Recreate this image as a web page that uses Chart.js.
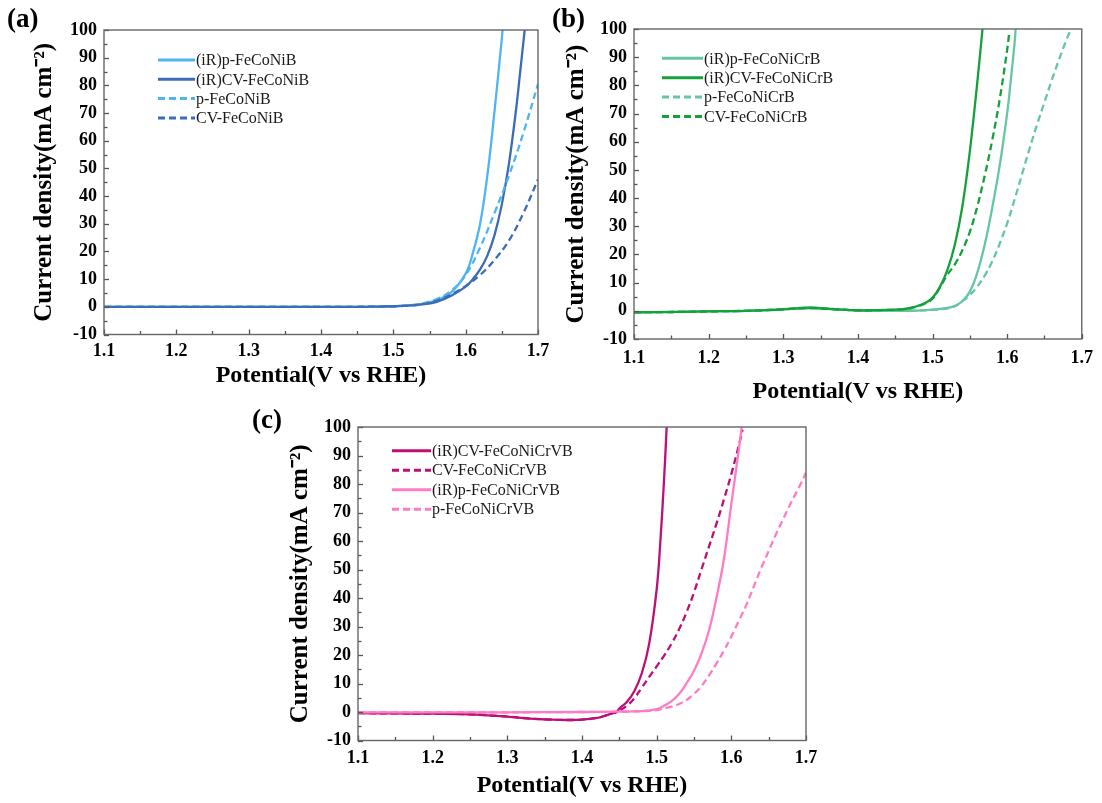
<!DOCTYPE html>
<html><head><meta charset="utf-8">
<script src="https://cdn.jsdelivr.net/npm/chart.js@4/dist/chart.umd.min.js"></script>
<style>
html,body{margin:0;padding:0;background:#fff;}
body{width:1102px;height:803px;position:relative;overflow:hidden;}
canvas{position:absolute;}
</style></head>
<body>
<canvas id="ca" width="556" height="400" style="left:0;top:0"></canvas>
<canvas id="cb" width="562" height="410" style="left:540px;top:0"></canvas>
<canvas id="cc" width="760" height="400" style="left:240px;top:403px"></canvas>
<script>
// ---------- shared axis ticks ----------
const xTickLabels = [1.1, 1.2, 1.3, 1.4, 1.5, 1.6, 1.7];
const yTickLabels = [-10, 0, 10, 20, 30, 40, 50, 60, 70, 80, 90, 100];

// ---------- panel (a) ----------
const aLabels = ['(iR)p-FeCoNiB', '(iR)CV-FeCoNiB', 'p-FeCoNiB', 'CV-FeCoNiB'];
const aPot_iRp  = [1.10,1.20,1.30,1.40,1.45,1.48,1.50,1.52,1.54,1.56,1.58,1.60,1.61,1.62,1.63,1.64,1.65,1.651];
const aCur_iRp  = [0,0,0,0,0,0.1,0.2,0.5,1.1,2.4,5.2,12,19.5,30,47.5,71,97,100];
const aPot_iRCV = [1.10,1.20,1.30,1.40,1.45,1.48,1.50,1.52,1.54,1.56,1.58,1.60,1.61,1.62,1.63,1.64,1.65,1.66,1.67,1.675,1.6816];
const aCur_iRCV = [0,0,0,0,0,0.1,0.2,0.4,0.9,1.8,4.0,7.3,10,13.5,18.5,26,37,52,72,84,100];
const aPot_p    = [1.10,1.20,1.30,1.40,1.45,1.48,1.50,1.52,1.54,1.56,1.58,1.60,1.62,1.64,1.66,1.68,1.70];
const aCur_p    = [0,0,0,0,0,0.1,0.2,0.5,1.2,2.8,5.8,11.5,21.5,34,47.5,63,80.5];
const aPot_CV   = [1.10,1.20,1.30,1.40,1.45,1.48,1.50,1.52,1.54,1.56,1.58,1.60,1.62,1.64,1.66,1.68,1.70];
const aCur_CV   = [0,0,0,0,0,0.1,0.2,0.4,0.9,2.2,4.5,7.5,11.5,17,24,34,46];

// ---------- panel (b) ----------
const bLabels = ['(iR)p-FeCoNiCrB', '(iR)CV-FeCoNiCrB', 'p-FeCoNiCrB', 'CV-FeCoNiCrB'];
const bPot_iRp  = [1.10,1.16,1.20,1.25,1.30,1.335,1.37,1.40,1.45,1.48,1.50,1.52,1.53,1.54,1.55,1.56,1.57,1.58,1.59,1.60,1.605,1.61,1.6114];
const bCur_iRp  = [-0.5,-0.4,-0.2,0,0.6,1.2,0.6,0.1,0,0.1,0.4,1.0,1.8,3.4,6.8,13.5,23.5,36.5,51.5,70,82,95,100];
const bPot_iRCV = [1.10,1.16,1.20,1.25,1.30,1.335,1.37,1.40,1.44,1.46,1.47,1.48,1.49,1.50,1.51,1.52,1.53,1.54,1.55,1.56,1.567];
const bCur_iRCV = [-0.5,-0.4,-0.2,0,0.5,1.0,0.5,0.2,0.3,0.6,1.0,1.7,2.8,4.6,8.5,14.5,23.5,37,56.5,81,100];
const bPot_p    = [1.10,1.16,1.20,1.25,1.30,1.335,1.37,1.40,1.45,1.48,1.50,1.52,1.53,1.54,1.55,1.56,1.57,1.58,1.59,1.60,1.61,1.62,1.63,1.64,1.65,1.66,1.67,1.68,1.684];
const bCur_p    = [-0.5,-0.4,-0.2,0,0.6,1.1,0.6,0.1,0,0.1,0.3,0.9,1.6,3.4,5.6,8.6,12.5,17.5,23.8,31,39.5,48.5,57.5,66,74,82,89.5,96.5,99];
const bPot_CV   = [1.10,1.16,1.20,1.25,1.30,1.335,1.37,1.40,1.44,1.46,1.47,1.48,1.49,1.50,1.51,1.52,1.53,1.54,1.55,1.56,1.57,1.58,1.59,1.60,1.6025];
const bCur_CV   = [-0.5,-0.4,-0.2,0,0.5,1.0,0.5,0.2,0.3,0.5,0.9,1.6,2.6,4.3,8.3,12.8,16.5,21.5,28,37,48,60.5,75,92.5,97.9];

// ---------- panel (c) ----------
const cLabels = ['(iR)CV-FeCoNiCrVB', 'CV-FeCoNiCrVB', '(iR)p-FeCoNiCrVB', 'p-FeCoNiCrVB'];
const cPot_iRCV = [1.10,1.15,1.20,1.25,1.30,1.33,1.36,1.38,1.40,1.42,1.43,1.44,1.4465,1.45,1.46,1.47,1.48,1.49,1.50,1.505,1.51,1.5134];
const cCur_iRCV = [-0.4,-0.5,-0.6,-0.8,-1.6,-2.3,-2.7,-2.8,-2.7,-2.1,-1.4,-0.5,0,1.2,3.5,7.3,13.5,24,43,60,82,100];
const cPot_CV   = [1.10,1.15,1.20,1.25,1.30,1.33,1.36,1.38,1.40,1.42,1.43,1.44,1.4465,1.46,1.47,1.48,1.49,1.50,1.51,1.52,1.53,1.54,1.55,1.56,1.57,1.58,1.59,1.60,1.61,1.615];
const cCur_CV   = [-0.4,-0.5,-0.6,-0.8,-1.6,-2.3,-2.7,-2.8,-2.7,-2.1,-1.4,-0.5,0,2.2,4.8,8.5,12.3,16,19.8,24,29,35,42,50,58,66,74.5,83.5,93.5,99];
const cPot_iRp  = [1.10,1.20,1.30,1.40,1.45,1.48,1.50,1.51,1.52,1.53,1.54,1.55,1.56,1.57,1.58,1.59,1.60,1.61,1.614];
const cCur_iRp  = [-0.1,-0.1,-0.1,0,0.1,0.3,1.0,2.2,3.8,6.3,10,14.5,20.5,28.5,40,53.5,73,92,100];
const cPot_p    = [1.10,1.20,1.30,1.40,1.45,1.48,1.50,1.52,1.53,1.54,1.55,1.56,1.57,1.58,1.59,1.60,1.61,1.62,1.63,1.64,1.65,1.66,1.67,1.68,1.69,1.70];
const cCur_p    = [-0.1,-0.1,-0.1,0,0.1,0.3,0.7,1.9,2.8,4.2,6.3,9.1,12.8,17,21.5,26.5,32,37.5,44,50.5,56.5,62.5,68,73.5,78.5,84];

// ---------- styling ----------
const SERIF = '"Liberation Serif", "Times New Roman", serif';
const DASH = [7, 4];

function pts(p, c) { return p.map((v, i) => ({ x: v, y: c[i] })); }
function ds(label, p, c, color, dashed, order) {
  return {
    label, data: pts(p, c), borderColor: color, borderWidth: 2.3,
    borderDash: dashed ? DASH : [], pointRadius: 0,
    tension: 0.4, fill: false, order
  };
}

const framePlugin = {
  id: 'frame',
  beforeDraw(chart, args, opts) {
    if (opts.bg) {
      const c = chart.ctx; c.save(); c.fillStyle = '#fff';
      c.fillRect(0, 0, chart.width, chart.height); c.restore();
    }
  },
  afterDraw(chart, args, opts) {
    const c = chart.ctx, a = chart.chartArea;
    const xs = chart.scales.x, ys = chart.scales.y;
    c.save();
    c.strokeStyle = '#555'; c.lineWidth = 1.3;
    for (let k = 0; k <= 12; k++) {
      const v = 1.1 + k * 0.05;
      const px = Math.round(xs.getPixelForValue(v)) + 0.5;
      const len = k % 2 === 0 ? 5 : 3.5;
      c.beginPath(); c.moveTo(px, a.bottom); c.lineTo(px, a.bottom - len); c.stroke();
    }
    for (let k = 0; k <= 22; k++) {
      const v = -10 + k * 5;
      const py = Math.round(ys.getPixelForValue(v)) + 0.5;
      const len = k % 2 === 0 ? 5 : 3.5;
      c.beginPath(); c.moveTo(a.left, py); c.lineTo(a.left + len, py); c.stroke();
    }
    c.strokeStyle = '#666'; c.lineWidth = 1.4;
    c.strokeRect(a.left, a.top, a.right - a.left, a.bottom - a.top);
    c.fillStyle = '#000'; c.font = 'bold 27px ' + SERIF;
    c.textBaseline = 'middle'; c.textAlign = 'left';
    c.fillText(opts.letter, opts.lx, opts.ly);
    c.font = '16px ' + SERIF;
    chart.data.datasets.forEach((d, i) => {
      const y = opts.legY + i * opts.legDy;
      c.strokeStyle = d.borderColor; c.lineWidth = 3; c.setLineDash(d.borderDash);
      c.beginPath(); c.moveTo(opts.legX0, y); c.lineTo(opts.legX1, y); c.stroke();
      c.setLineDash([]);
      c.fillStyle = '#1a1a1a'; c.fillText(d.label, opts.legX1 + 1, y + 1);
    });
    c.restore();
  }
};

function makeChart(id, datasets, g) {
  new Chart(document.getElementById(id), {
    type: 'line',
    data: { datasets },
    options: {
      responsive: false, animation: false, devicePixelRatio: 1,
      layout: { padding: { left: 0, top: g.top, right: g.right, bottom: 0 } },
      plugins: { legend: { display: false }, tooltip: { enabled: false }, frame: g.frame },
      scales: {
        x: {
          type: 'linear', min: 1.1, max: 1.7,
          grid: { display: false, drawTicks: false, tickLength: 0 }, border: { display: false },
          afterBuildTicks: s => { s.ticks = xTickLabels.map(v => ({ value: v })); },
          afterFit: s => { s.height = g.xh; },
          ticks: { color: '#000', padding: g.xpad, maxRotation: 0, autoSkip: false,
                   font: { family: SERIF, size: 18, weight: 'bold' },
                   callback: v => Number(v).toFixed(1) },
          title: { display: true, text: 'Potential(V vs RHE)', color: '#000',
                   font: { family: SERIF, size: 24, weight: 'bold' },
                   padding: { top: 0, bottom: g.xtp } }
        },
        y: {
          type: 'linear', min: -10, max: 100,
          grid: { display: false, drawTicks: false, tickLength: 0 }, border: { display: false },
          afterBuildTicks: s => { s.ticks = yTickLabels.map(v => ({ value: v })); },
          afterFit: s => { s.width = g.yw; },
          ticks: { color: '#000', padding: 7, autoSkip: false,
                   font: { family: SERIF, size: 18, weight: 'bold' },
                   callback: v => String(v) },
          title: { display: true, text: 'Current density(mA cm\u207B\u00B2)', color: '#000',
                   font: { family: SERIF, size: 25, weight: 'bold' },
                   padding: { top: g.ytp, bottom: 0 } }
        }
      }
    },
    plugins: [framePlugin]
  });
}

const LB = '#4db5f0', DB = '#3d6cb6';
const MINT = '#66c6a2', GRN = '#14a13b';
const MAG = '#bd0f78', PINK = '#ff7cc3';

makeChart('ca', [
  ds(aLabels[0], aPot_iRp, aCur_iRp, LB, false, 4),
  ds(aLabels[1], aPot_iRCV, aCur_iRCV, DB, false, 3),
  ds(aLabels[2], aPot_p, aCur_p, LB, true, 2),
  ds(aLabels[3], aPot_CV, aCur_CV, DB, true, 1)
], { top: 30, right: 18, yw: 104, xh: 65.5, xpad: 6, xtp: 9.6, ytp: 30,
     frame: { letter: '(a)', lx: 7, ly: 20, legX0: 158, legX1: 195, legY: 60, legDy: 19.3 } });

makeChart('cb', [
  ds(bLabels[0], bPot_iRp, bCur_iRp, MINT, false, 4),
  ds(bLabels[1], bPot_iRCV, bCur_iRCV, GRN, false, 1),
  ds(bLabels[2], bPot_p, bCur_p, MINT, true, 3),
  ds(bLabels[3], bPot_CV, bCur_CV, GRN, true, 2)
], { top: 29, right: 19, yw: 94, xh: 71, xpad: 9, xtp: 3.6, ytp: 22,
     frame: { letter: '(b)', lx: 12, ly: 20, legX0: 122, legX1: 163, legY: 58.3, legDy: 19.4 } });

makeChart('cc', [
  ds(cLabels[0], cPot_iRCV, cCur_iRCV, MAG, false, 2),
  ds(cLabels[1], cPot_CV, cCur_CV, MAG, true, 3),
  ds(cLabels[2], cPot_iRp, cCur_iRp, PINK, false, 1),
  ds(cLabels[3], cPot_p, cCur_p, PINK, true, 4)
], { top: 24, right: 194, yw: 118, xh: 62.5, xpad: 7, xtp: 2.6, ytp: 46,
     frame: { bg: true, letter: '(c)', lx: 12, ly: 18, legX0: 152, legX1: 191, legY: 47.7, legDy: 19.5 } });
</script>
</body></html>
